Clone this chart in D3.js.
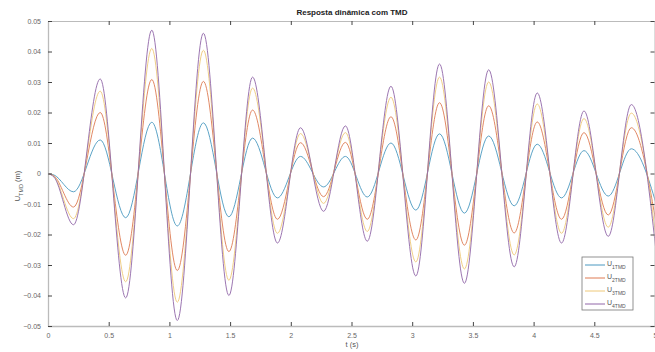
<!DOCTYPE html>
<html>
<head>
<meta charset="utf-8">
<script src="https://cdn.jsdelivr.net/npm/d3@7"></script>
<style>
  body { margin: 0; background: #fff; }
  svg { display: block; font-family: "Liberation Sans", Arial, sans-serif; }
</style>
</head>
<body>
<div id="chart"></div>
<script>
// Thời điểm các cực trị (s)
const times = [0, 0.05, 0.21, 0.43, 0.64, 0.855, 1.065, 1.28, 1.49, 1.685, 1.89, 2.08, 2.27, 2.45, 2.63, 2.825, 3.03, 3.225, 3.43, 3.63, 3.84, 4.03, 4.23, 4.415, 4.615, 4.805, 5.01];

const u1 = [0, -0.0005, -0.006, 0.011, -0.0145, 0.0168, -0.0172, 0.0166, -0.0142, 0.0116, -0.0080, 0.0056, -0.0044, 0.0056, -0.0077, 0.0100, -0.0120, 0.0130, -0.0130, 0.0123, -0.0106, 0.0096, -0.0080, 0.0075, -0.0074, 0.0081, -0.0100];
const u2 = [0, -0.0008, -0.011, 0.020, -0.0268, 0.0308, -0.0318, 0.0302, -0.0256, 0.0208, -0.0150, 0.0101, -0.0076, 0.0102, -0.0150, 0.0186, -0.0218, 0.0232, -0.0235, 0.0222, -0.0195, 0.0169, -0.0150, 0.0134, -0.0136, 0.0150, -0.0165];
const u3 = [0, -0.0010, -0.0148, 0.027, -0.0355, 0.0410, -0.0422, 0.0404, -0.0350, 0.0280, -0.0196, 0.0131, -0.0098, 0.0134, -0.0190, 0.0250, -0.0290, 0.0316, -0.0313, 0.0300, -0.0267, 0.0228, -0.0196, 0.0180, -0.0176, 0.0198, -0.0215];
const u4 = [0, -0.0012, -0.0168, 0.031, -0.0408, 0.0470, -0.0482, 0.0460, -0.0400, 0.0316, -0.0228, 0.0150, -0.0124, 0.0156, -0.0222, 0.0286, -0.0336, 0.0359, -0.0360, 0.0340, -0.0306, 0.0264, -0.0228, 0.0205, -0.0206, 0.0226, -0.0260];

const seriesNames = ["1TMD", "2TMD", "3TMD", "4TMD"];
const seriesColors = ["#4a98c0", "#de7a52", "#eec878", "#9166a8"];
const xTicks = [0, 0.5, 1, 1.5, 2, 2.5, 3, 3.5, 4, 4.5, 5];
const yTicks = [-0.05, -0.04, -0.03, -0.02, -0.01, 0, 0.01, 0.02, 0.03, 0.04, 0.05];

const W = 655, H = 352;
const margin = { left: 48, top: 21, right: 0, bottom: 26 };
const pw = W - margin.left - margin.right;
const ph = H - margin.top - margin.bottom;

const svg = d3.select("#chart").append("svg")
    .attr("width", W).attr("height", H);

const x = d3.scaleLinear().domain([0, 5]).range([margin.left, margin.left + pw]);
const y = d3.scaleLinear().domain([-0.05, 0.05]).range([margin.top + ph, margin.top]);

svg.append("clipPath").attr("id", "clip")
    .append("rect")
    .attr("x", margin.left).attr("y", margin.top)
    .attr("width", pw).attr("height", ph);

// Các đường dữ liệu
const allSeries = [u1, u2, u3, u4];
const line = d3.line()
    .x((d, i) => x(times[i]))
    .y(d => y(d))
    .curve(d3.curveMonotoneX);

svg.append("g").attr("clip-path", "url(#clip)")
    .selectAll("path")
    .data(allSeries)
    .join("path")
    .attr("d", d => line(d))
    .attr("fill", "none")
    .attr("stroke", (d, i) => seriesColors[i])
    .attr("stroke-width", 0.9);

// Trục
const fmtY = d => d === 0 ? "0" : d3.format(".2f")(d);
const fmtX = d => String(d);

const axB = svg.append("g")
    .attr("transform", `translate(0,${margin.top + ph})`)
    .call(d3.axisBottom(x).tickValues(xTicks).tickFormat(fmtX).tickSizeInner(-4).tickSizeOuter(0).tickPadding(7));
const axT = svg.append("g")
    .attr("transform", `translate(0,${margin.top})`)
    .call(d3.axisTop(x).tickValues(xTicks).tickFormat("").tickSizeInner(-4).tickSizeOuter(0));
const axL = svg.append("g")
    .attr("transform", `translate(${margin.left},0)`)
    .call(d3.axisLeft(y).tickValues(yTicks).tickFormat(fmtY).tickSizeInner(-4).tickSizeOuter(0).tickPadding(7));
const axR = svg.append("g")
    .attr("transform", `translate(${margin.left + pw - 0.5},0)`)
    .call(d3.axisRight(y).tickValues(yTicks).tickFormat("").tickSizeInner(-4).tickSizeOuter(0));

[axB, axT, axL, axR].forEach(a => {
    a.select(".domain").attr("stroke", "#bbb");
    a.selectAll(".tick line").attr("stroke", "#444");
    a.selectAll("text").attr("fill", "#666").style("font-size", "7px");
});
axB.select(".domain").attr("stroke-width", 1.6);
axL.select(".domain").attr("stroke-width", 1.3);

// Tiêu đề và nhãn trục
svg.append("text")
    .attr("x", 352).attr("y", 15)
    .attr("text-anchor", "middle")
    .attr("fill", "#222")
    .style("font-size", "8px")
    .style("font-weight", "bold")
    .text("Resposta dinâmica com TMD");

svg.append("text")
    .attr("x", 352).attr("y", 347)
    .attr("text-anchor", "middle")
    .attr("fill", "#555")
    .style("font-size", "7.5px")
    .text("t (s)");

const yl = svg.append("text")
    .attr("transform", `translate(20,186) rotate(-90)`)
    .attr("text-anchor", "middle")
    .attr("fill", "#555")
    .style("font-size", "7.5px");
yl.append("tspan").text("U");
yl.append("tspan").attr("dy", 2.5).style("font-size", "5.5px").text("TMD");
yl.append("tspan").attr("dy", -2.5).text(" (m)");

// Chú giải
const lg = svg.append("g").attr("transform", "translate(582,257)");
lg.append("rect")
    .attr("width", 51).attr("height", 53)
    .attr("fill", "#fff")
    .attr("stroke", "#777")
    .attr("stroke-width", 0.8);

seriesNames.forEach((name, i) => {
    const yy = 8 + i * 13;
    lg.append("line")
        .attr("x1", 3).attr("x2", 23)
        .attr("y1", yy).attr("y2", yy)
        .attr("stroke", seriesColors[i]).attr("stroke-width", 1);
    const t = lg.append("text")
        .attr("x", 25).attr("y", yy + 1)
        .attr("fill", "#555")
        .style("font-size", "7px");
    t.append("tspan").text("U");
    t.append("tspan").attr("dy", 2.5).style("font-size", "5px").text(name);
});
</script>
</body>
</html>
